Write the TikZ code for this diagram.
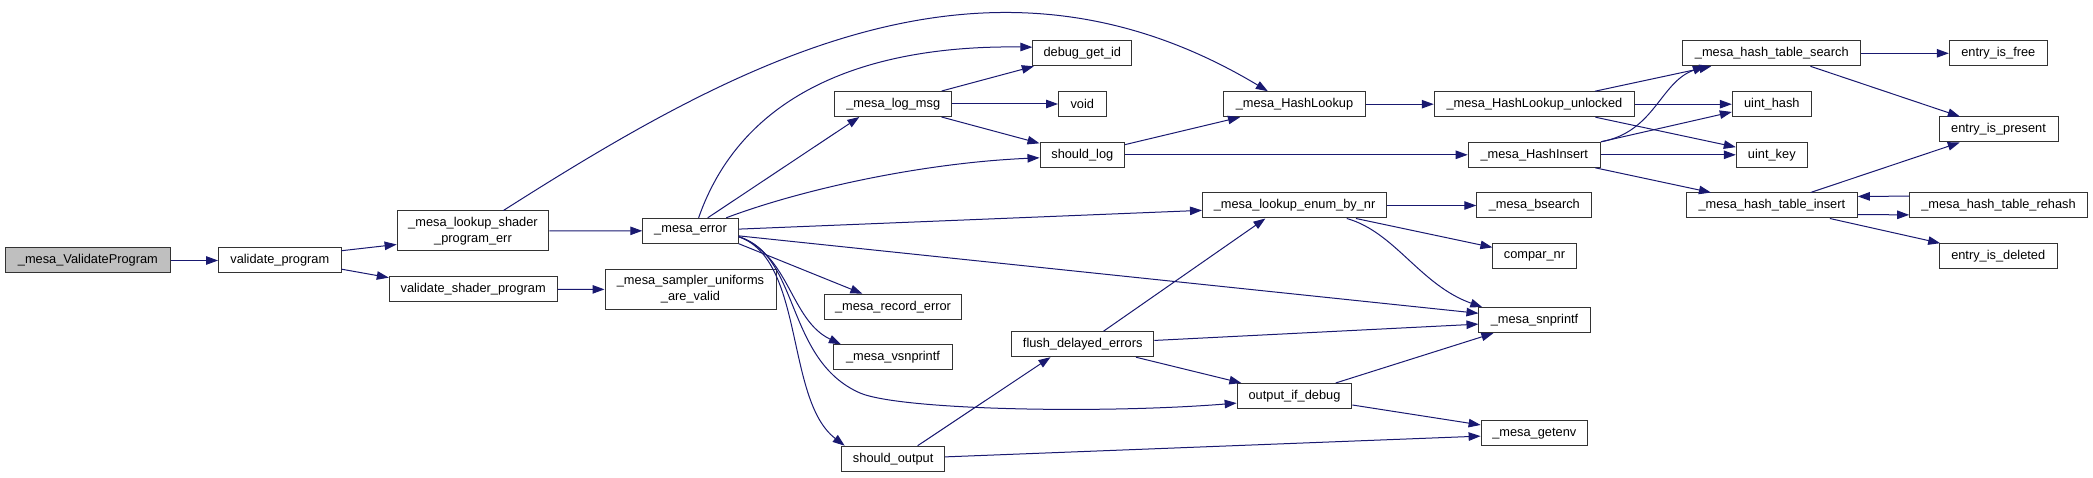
\documentclass[tikz,border=0pt]{standalone}
\usepackage{fontspec}
\setmainfont{Liberation Sans}
\usetikzlibrary{arrows.meta}
\definecolor{edgeblue}{HTML}{191970}
\definecolor{rootgray}{HTML}{BFBFBF}

\begin{document}
\begin{tikzpicture}[x=1pt,y=-1pt,
  fn/.style={draw=black!80,line width=1pt,fill=white,inner sep=0pt,
    minimum height=25pt,align=center,font=\fontsize{12.8}{15.5}\selectfont},
  call/.style={draw=edgeblue,line width=1pt,-{Triangle[length=12pt,width=8.5pt]}}]
\useasboundingbox (0,0) rectangle (2093,478);

\node[fn,fill=rootgray,minimum width=164.3pt] (vp) at (87.9,260.5) {\_mesa\_ValidateProgram};
\node[fn,minimum width=122.5pt] (valprog) at (279.8,260.5) {validate\_program};
\node[fn,minimum width=151.8pt,minimum height=40pt] (lerr) at (473,231) {\_mesa\_lookup\_shader\\\_program\_err};
\node[fn,minimum width=167.8pt] (valsh) at (473.2,289.5) {validate\_shader\_program};
\node[fn,minimum width=95.5pt] (err) at (690.5,230.8) {\_mesa\_error};
\node[fn,minimum width=171pt,minimum height=40pt] (sampler) at (690.5,289.3) {\_mesa\_sampler\_uniforms\\\_are\_valid};

\node[fn,minimum width=117.2pt] (logmsg) at (893.2,104) {\_mesa\_log\_msg};
\node[fn,minimum width=137.5pt] (recerr) at (893,306.7) {\_mesa\_record\_error};
\node[fn,minimum width=119pt] (vsnp) at (893,357.3) {\_mesa\_vsnprintf};
\node[fn,minimum width=102.8pt] (shout) at (893.2,458.7) {should\_output};

\node[fn,minimum width=98.9pt] (dbgid) at (1082.3,53.3) {debug\_get\_id};
\node[fn,minimum width=47.5pt] (void) at (1082.3,104) {void};
\node[fn,minimum width=84.6pt] (shlog) at (1082.3,154.8) {should\_log};
\node[fn,minimum width=142.5pt] (flush) at (1082.7,344.2) {flush\_delayed\_errors};

\node[fn,minimum width=141.8pt] (hl) at (1294.5,104.2) {\_mesa\_HashLookup};
\node[fn,minimum width=184.3pt] (enum) at (1294.6,205.5) {\_mesa\_lookup\_enum\_by\_nr};
\node[fn,minimum width=114.7pt] (odbg) at (1294.5,396) {output\_if\_debug};

\node[fn,minimum width=200.3pt] (hlu) at (1534.4,104.2) {\_mesa\_HashLookup\_unlocked};
\node[fn,minimum width=132.2pt] (hins) at (1534.3,154.8) {\_mesa\_HashInsert};
\node[fn,minimum width=115pt] (bsearch) at (1534.3,205.5) {\_mesa\_bsearch};
\node[fn,minimum width=83.2pt] (compar) at (1534.5,256.3) {compar\_nr};
\node[fn,minimum width=111.1pt] (snp) at (1534.5,320.2) {\_mesa\_snprintf};
\node[fn,minimum width=106.4pt] (getenv) at (1534.3,433.3) {\_mesa\_getenv};

\node[fn,minimum width=177.7pt] (hts) at (1771.8,53.3) {\_mesa\_hash\_table\_search};
\node[fn,minimum width=79pt] (uhash) at (1771.8,104.2) {uint\_hash};
\node[fn,minimum width=71pt] (ukey) at (1771.8,154.8) {uint\_key};
\node[fn,minimum width=171pt] (hti) at (1771.8,205.5) {\_mesa\_hash\_table\_insert};

\node[fn,minimum width=98pt] (free) at (1998.3,53.3) {entry\_is\_free};
\node[fn,minimum width=119pt] (present) at (1998.5,129.5) {entry\_is\_present};
\node[fn,minimum width=177.7pt] (rehash) at (1998.5,205.5) {\_mesa\_hash\_table\_rehash};
\node[fn,minimum width=117.7pt] (deleted) at (1998.2,256.2) {entry\_is\_deleted};

\draw[call] (vp) -- (valprog);
\draw[call] (valprog.9) -- (lerr.190);
\draw[call] (valprog.-8) -- (valsh.172);
\draw[call] (lerr) -- (err);
\draw[call] (lerr.34) .. controls (740,60) and (989,-76) .. (hl.154);
\draw[call] (valsh) -- (sampler);

\draw[call] (err.58) .. controls (745,85) and (880,45) .. (dbgid.173);
\draw[call] (err.37) -- (logmsg.201);
\draw[call] (err.20) .. controls (800,190) and (920,163) .. (shlog.184);
\draw[call] (err.2) -- (enum.183);
\draw[call] (err.-6) -- (snp.173);
\draw[call] (err.-15) -- (recerr.157);
\draw[call] (err.-7) .. controls (790,255) and (790,320) .. (vsnp.166);
\draw[call] (err.-7) .. controls (800,255) and (785,360) .. (860,393)
  .. controls (900,410) and (1100,414) .. (odbg.187);
\draw[call] (err.-7) .. controls (805,260) and (785,400) .. (shout.165);

\draw[call] (logmsg) -- (dbgid);
\draw[call] (logmsg) -- (void);
\draw[call] (logmsg) -- (shlog);
\draw[call] (shlog) -- (hl);
\draw[call] (shlog) -- (hins);
\draw[call] (hl) -- (hlu);

\draw[call] (hlu) -- (hts);
\draw[call] (hlu) -- (uhash);
\draw[call] (hlu) -- (ukey);
\draw[call] (hins.north east) .. controls (1655,132) and (1660,82) .. (hts.191);
\draw[call] (hins.north east) -- (uhash.191);
\draw[call] (hins) -- (ukey);
\draw[call] (hins) -- (hti);

\draw[call] (hts) -- (free);
\draw[call] (hts) -- (present);
\draw[call] (hti) -- (present);
\draw[call] (hti.-6) -- (rehash.186);
\draw[call] (rehash.174) -- (hti.6);
\draw[call] (hti) -- (deleted);

\draw[call] (enum) -- (bsearch);
\draw[call] (enum) -- (compar);
\draw[call] (enum.-14) .. controls (1395,232) and (1420,285) .. (snp.166);
\draw[call] (flush.32) -- (enum.204);
\draw[call] (flush.3) -- (snp.184);
\draw[call] (flush) -- (odbg);
\draw[call] (odbg) -- (snp);
\draw[call] (odbg) -- (getenv);
\draw[call] (shout.28) -- (flush.202);
\draw[call] (shout.2) -- (getenv.183);
\end{tikzpicture}
\end{document}
